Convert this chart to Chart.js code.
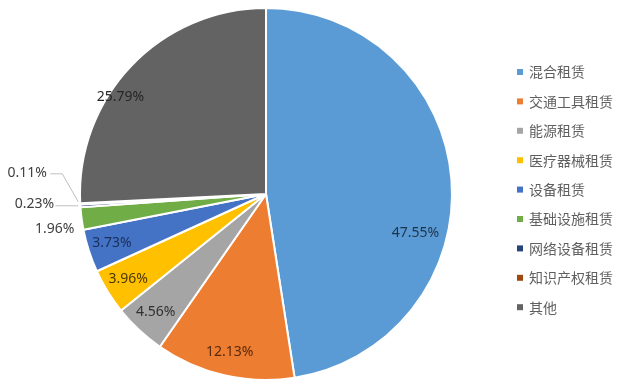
<!DOCTYPE html>
<html>
<head>
<meta charset="utf-8">
<script src="https://cdn.jsdelivr.net/npm/chart.js@4/dist/chart.umd.min.js"></script>
<style>
    html, body { margin: 0; padding: 0; background: #fff; }
    #wrap { width: 640px; height: 384px; }
</style>
</head>
<body>
<div id="wrap"><canvas id="pieChart" width="640" height="384"></canvas></div>
<script>
const categories = ['混合租赁', '交通工具租赁', '能源租赁', '医疗器械租赁', '设备租赁', '基础设施租赁', '网络设备租赁', '知识产权租赁', '其他'];
const shares = [47.55, 12.13, 4.56, 3.96, 3.73, 1.96, 0.23, 0.11, 25.79];
const valueLabels = ['47.55%', '12.13%', '4.56%', '3.96%', '3.73%', '1.96%', '0.23%', '0.11%', '25.79%'];

const sliceColors = ['#5B9BD5', '#ED7D31', '#A5A5A5', '#FFC000', '#4472C4', '#70AD47', '#264478', '#9E480E', '#636363'];
const textColors = ['#1f3347', '#5a2a0c', '#303030', '#4a3800', '#1a2f5a', '#404040', '#404040', '#404040', '#262626'];

// label placement: angle nudge (deg) and radius fraction for inside labels,
// offsets from the arc's outer point for the small outside ones
const labelLayout = {
    inside: { 0: { shift: 19, f: 0.83 }, 8: { shift: -10, f: 0.94 } },
    outside: {
        5: { dx: -27, dy: 10, line: null },
        6: { dx: -46, dy: -2, line: [[-2, 0], [-25, 0]] },
        7: { dx: -53, dy: -31, line: [[-2, -2], [-18, -30], [-30, -30]] }
    }
};

const pieLabels = {
    id: 'pieLabels',
    afterDatasetsDraw(chart) {
        const ctx = chart.ctx;
        const arcs = chart.getDatasetMeta(0).data;
        ctx.save();
        ctx.font = '14px "Noto Sans", sans-serif';
        ctx.textBaseline = 'middle';
        arcs.forEach((arc, i) => {
            const mid = (arc.startAngle + arc.endAngle) / 2;
            const out = labelLayout.outside[i];
            if (out) {
                const ox = arc.x + arc.outerRadius * Math.cos(mid);
                const oy = arc.y + arc.outerRadius * Math.sin(mid);
                if (out.line) {
                    ctx.strokeStyle = '#bfbfbf';
                    ctx.lineWidth = 1;
                    ctx.beginPath();
                    out.line.forEach((p, k) => {
                        if (k === 0) ctx.moveTo(ox + p[0], oy + p[1]);
                        else ctx.lineTo(ox + p[0], oy + p[1]);
                    });
                    ctx.stroke();
                }
                ctx.fillStyle = '#404040';
                ctx.textAlign = 'center';
                ctx.fillText(valueLabels[i], ox + out.dx, oy + out.dy);
                return;
            }
            const lay = labelLayout.inside[i] || { shift: 0, f: 0.87 };
            const a = mid + lay.shift * Math.PI / 180;
            const r = arc.outerRadius * lay.f;
            ctx.fillStyle = textColors[i];
            ctx.textAlign = 'center';
            ctx.fillText(valueLabels[i], arc.x + r * Math.cos(a), arc.y + r * Math.sin(a));
        });
        ctx.restore();
    }
};

const sideLegend = {
    id: 'sideLegend',
    afterDraw(chart) {
        const ctx = chart.ctx;
        ctx.save();
        ctx.font = '14px "Noto Sans CJK SC", sans-serif';
        ctx.textBaseline = 'middle';
        ctx.textAlign = 'left';
        categories.forEach((name, i) => {
            const y = 72 + i * 29.4;
            ctx.fillStyle = sliceColors[i];
            ctx.fillRect(517, y - 3, 6, 6);
            ctx.fillStyle = '#5f5f5f';
            ctx.fillText(name, 529, y);
        });
        ctx.restore();
    }
};

const chart = new Chart(document.getElementById('pieChart').getContext('2d'), {
    type: 'pie',
    data: {
        labels: categories,
        datasets: [{
            data: shares,
            backgroundColor: sliceColors,
            borderColor: '#ffffff',
            borderWidth: 2
        }]
    },
    options: {
        responsive: false,
        animation: false,
        layout: { padding: { top: 6, bottom: 2, left: 79, right: 187 } },
        plugins: {
            legend: { display: false },
            tooltip: { enabled: false }
        }
    },
    plugins: [pieLabels, sideLegend]
});
</script>
</body>
</html>
